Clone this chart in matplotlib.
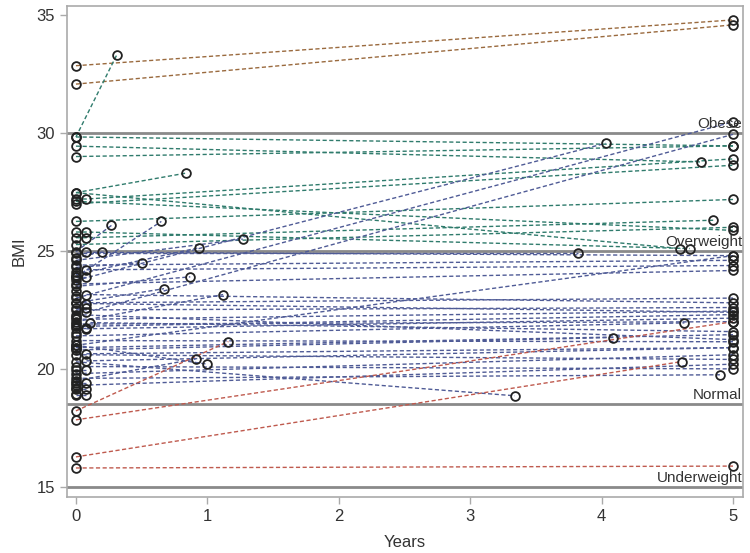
import matplotlib.pyplot as plt

plt.rcParams['font.family'] = ['Liberation Sans', 'DejaVu Sans']

# BMI cut-offs and their labels
CUTOFFS = [15, 18.5, 25, 30]
CUTOFF_LABELS = ["Underweight", "Normal", "Overweight", "Obese"]

# Subjects grouped by baseline BMI category: measurement years and BMI values
obese_years = [[0, 5], [0, 5]]
obese_bmi = [[32.85, 34.79], [32.07, 34.58]]

overweight_years = [
    [0, 0.31], [0, 5], [0, 5], [0, 4.76], [0, 0.84], [0, 0.08, 5], [0, 5],
    [0, 4.6], [0, 5], [0, 5], [0, 0.08, 4.67], [0, 0.08, 4.85], [0, 5],
]
overweight_bmi = [
    [29.83, 33.3], [29.83, 29.45], [29.0, 29.45], [29.44, 28.77], [27.47, 28.3],
    [27.2, 27.2, 28.9], [27.0, 28.63], [27.47, 25.1], [27.1, 25.87], [26.25, 27.18],
    [25.8, 25.8, 25.1], [25.56, 25.56, 26.3], [25.27, 26.0],
]

normal_years = [
    [0, 4.03], [0, 5], [0.08, 5], [0.08, 5], [0, 3.82], [0, 5], [0.08, 5], [0, 5],
    [0, 5], [0, 5], [0.08, 5], [0, 5], [0.08, 5], [0, 5], [0, 4.63], [0.11, 5],
    [0, 5], [0, 5], [0, 4.09], [0.08, 5], [0, 5], [0, 4.9], [0, 3.34], [0.08, 5],
    [0, 5], [0, 5], [0, 5], [0, 5], [0.08, 5], [0, 5], [0, 5],
    [0, 0.27], [0, 0.65], [0, 0.2], [0, 0.5], [0, 0.94], [0, 0.87], [0, 1.27],
    [0, 0.67], [0, 1.12], [0, 0.91], [0, 1.0],
    [0, 0.08], [0, 0.08], [0, 0.08], [0, 0.08], [0, 0.08], [0, 0.08], [0, 0.08],
    [0], [0], [0], [0], [0], [0], [0], [0],
]
normal_bmi = [
    [23.75, 29.56], [23.0, 30.47], [22.4, 29.94], [24.94, 24.8], [24.9, 24.9],
    [24.4, 24.6], [24.2, 24.38], [23.6, 24.17], [21.0, 24.8], [22.8, 23.0],
    [23.15, 22.8], [22.5, 22.6], [22.77, 22.4], [21.9, 22.0], [21.4, 21.95],
    [21.96, 21.58], [22.3, 21.24], [21.2, 21.15], [20.8, 21.33], [20.64, 20.9],
    [20.1, 20.0], [19.6, 19.75], [20.3, 18.86], [20.34, 20.9], [19.8, 20.6],
    [21.8, 22.3], [20.6, 20.4], [22.1, 22.45], [21.7, 22.15], [20.9, 21.45],
    [19.3, 20.2],
    [24.97, 26.08], [23.9, 26.25], [24.7, 24.97], [24.3, 24.5], [24.0, 25.14],
    [23.5, 23.9], [24.6, 25.5], [22.8, 23.4], [22.0, 23.15], [19.5, 20.42],
    [21.0, 20.2],
    [23.9, 23.9], [22.6, 22.6], [21.75, 21.75], [19.96, 19.96], [19.4, 19.4],
    [19.15, 19.15], [18.9, 18.9],
    [19.2], [22.2], [23.3], [24.1], [20.9], [21.5], [18.95], [23.1],
]

underweight_years = [[0, 1.16], [0, 5], [0, 4.61], [0, 5]]
underweight_bmi = [[18.22, 21.16], [17.84, 22.0], [16.27, 20.31], [15.8, 15.88]]

groups = [
    (obese_years, obese_bmi, "#9a6a3e"),
    (overweight_years, overweight_bmi, "#2f7b6c"),
    (normal_years, normal_bmi, "#4f5b96"),
    (underweight_years, underweight_bmi, "#bf5a4e"),
]

fig = plt.figure(figsize=(7.5, 5.53), dpi=100)
ax = fig.add_axes([67 / 750, 56 / 553, 676 / 750, 491 / 553])

# reference lines for BMI categories
for c in CUTOFFS:
    ax.axhline(c, color="#8a8a8a", linewidth=2, zorder=1)

# subject trajectories
for years, bmi, color in groups:
    for xs, ys in zip(years, bmi):
        if len(xs) > 1:
            ax.plot(xs, ys, color=color, linestyle=(0, (3, 1.8)), linewidth=1.0, zorder=2)

for years, bmi, color in groups:
    for xs, ys in zip(years, bmi):
        ax.plot(xs, ys, linestyle="none", marker="o", markersize=6.3,
                markerfacecolor="none", markeredgecolor="#222222",
                markeredgewidth=1.3, zorder=3)

# category labels at the right edge
for c, lab in zip(CUTOFFS, CUTOFF_LABELS):
    ax.text(5.07, c + 0.08, lab, ha="right", va="bottom", fontsize=11, color="#333333")

ax.set_xlim(-0.068, 5.076)
ax.set_ylim(14.57, 35.38)
ax.set_xticks([0, 1, 2, 3, 4, 5])
ax.set_yticks([15, 20, 25, 30, 35])
ax.tick_params(colors="#aaaaaa", labelcolor="#333333", labelsize=12, length=5, width=1)
for s in ax.spines.values():
    s.set_color("#aaaaaa")
    s.set_linewidth(1.2)

ax.set_xlabel("Years", fontsize=12, color="#333333", labelpad=8)
ax.set_ylabel("BMI", fontsize=12, color="#333333", labelpad=7)

plt.savefig("out.png", dpi=100)
